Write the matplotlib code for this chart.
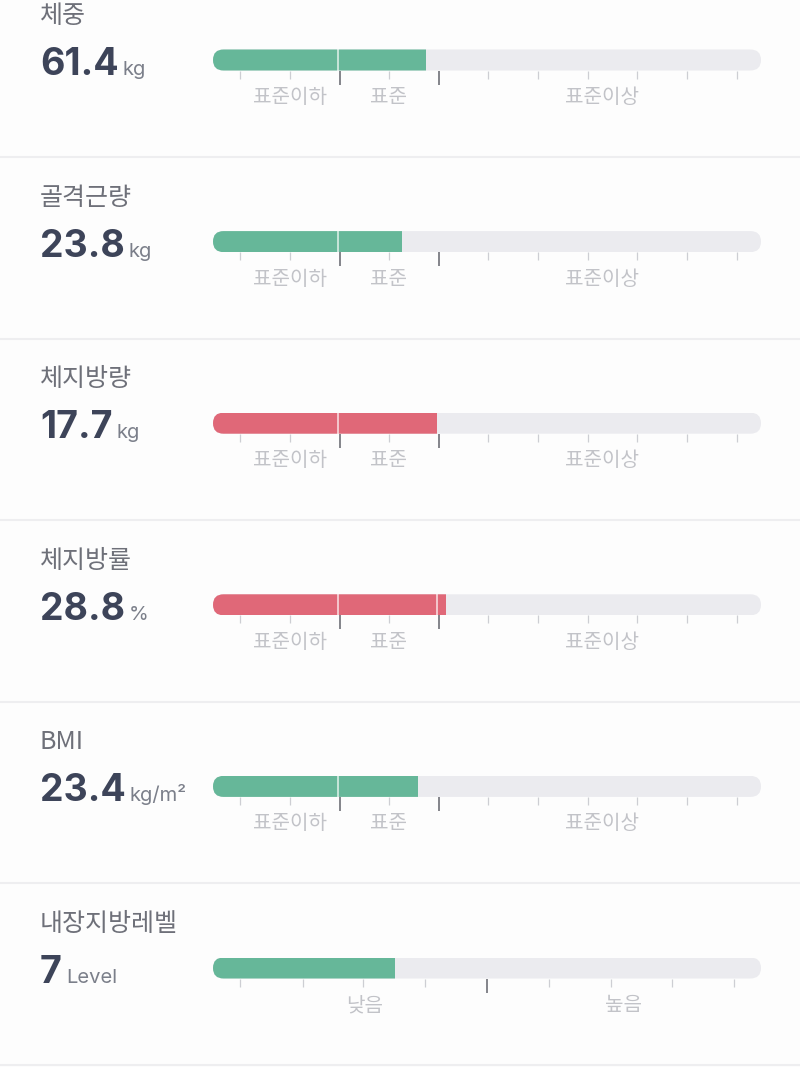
import matplotlib.pyplot as plt
from matplotlib.patches import FancyBboxPatch
from matplotlib.lines import Line2D

# body composition rows
titles = ['체중', '골격근량', '체지방량', '체지방률', 'BMI', '내장지방레벨']
values = ['61.4', '23.8', '17.7', '28.8', '23.4', '7']
units = ['kg', 'kg', 'kg', '%', 'kg/m²', 'Level']
# where each coloured fill ends, on a 0..11 scale
levels = [4.275, 3.794, 4.496, 4.677, 4.115, 3.653]
fill_colors = ['#66B799', '#66B799', '#E06878', '#E06878', '#66B799', '#66B799']

# scale for the standard rows
std_ticks = [0.54, 1.55, 2.54, 3.53, 4.54, 5.52, 6.52, 7.53, 8.51, 9.51, 10.51]
std_major = [2.54, 4.54]
std_labels = ['표준이하', '표준', '표준이상']
std_label_pos = [1.55, 3.53, 7.8]

# scale for visceral fat level
vis_ticks = [0.54, 1.81, 3.01, 4.26, 5.50, 6.74, 7.99, 9.22, 10.46]
vis_major = [5.50]
vis_labels = ['낮음', '높음']
vis_label_pos = [3.05, 8.25]

W, H = 800, 1067
ROW = 181.6
BAR_L, BAR_R, BAR_H = 213, 761, 21

fig = plt.figure(figsize=(W / 100, H / 100), dpi=100)
fig.patch.set_facecolor('#FDFDFD')
renderer = fig.canvas.get_renderer()

num_font = ['Inter', 'Noto Sans CJK KR']
kr_font = ['Noto Sans CJK KR', 'DejaVu Sans']

for i in range(len(titles)):
    off = i * ROW

    # title, value and unit
    fig.text(40 / W, 1 - (16 + off) / H, titles[i], fontsize=18,
             color='#6E7079', family=kr_font, va='center', ha='left')
    t = fig.text(40 / W, 1 - (75 + off) / H, values[i], fontsize=27,
                 weight='bold', color='#3D4459', family=num_font,
                 va='baseline', ha='left')
    bb = t.get_window_extent(renderer)
    fig.text((bb.x1 + 4) / W, 1 - (75 + off) / H, units[i], fontsize=14.5,
             color='#7B7F8A', family=num_font, va='baseline', ha='left')

    # bar axes
    yc = 60 + off
    ax = fig.add_axes([BAR_L / W, 1 - (yc + BAR_H / 2) / H,
                       (BAR_R - BAR_L) / W, BAR_H / H])
    ax.set_xlim(0, 11)
    ax.set_ylim(0, 1)
    ax.patch.set_alpha(0)
    for s in ax.spines.values():
        s.set_visible(False)

    unit_px = (BAR_R - BAR_L) / 11
    bg = FancyBboxPatch((0, 0), 11, 1,
                        boxstyle='round,pad=0,rounding_size=0.21',
                        mutation_aspect=unit_px / BAR_H,
                        facecolor='#EBEBEF', edgecolor='none')
    ax.add_patch(bg)
    bars = ax.barh(0.5, levels[i], height=1, left=0,
                   color=fill_colors[i], edgecolor='none')
    for b in bars:
        b.set_clip_path(bg)

    if i < 5:
        ticks, major, labels, lpos = std_ticks, std_major, std_labels, std_label_pos
    else:
        ticks, major, labels, lpos = vis_ticks, vis_major, vis_labels, vis_label_pos

    # pale divider inside the fill
    for m in major:
        if m < levels[i]:
            ax.vlines(m - 0.04, 0, 1, color='white', lw=1.2, alpha=0.75)

    ax.set_xticks(major)
    ax.set_xticklabels([''] * len(major))
    ax.set_xticks(ticks, minor=True)
    ax.set_yticks([])
    ax.tick_params(axis='x', which='major', length=10, width=1.3,
                   color='#7A7B82', direction='out')
    ax.tick_params(axis='x', which='minor', length=5.5, width=0.9,
                   color='#CDCED3', direction='out')

    for lab, x in zip(labels, lpos):
        ax.annotate(lab, xy=(x, 0), xycoords=('data', 'axes fraction'),
                    xytext=(0, -19.5), textcoords='offset points',
                    ha='center', va='center', fontsize=14.5,
                    color='#C2C3C8', family=kr_font)

    # separator under the row
    sy = 1 - (157 + off) / H
    fig.add_artist(Line2D([0, 1], [sy, sy], transform=fig.transFigure,
                          color='#EEEEF0', lw=1.5))

fig.savefig('out.png', dpi=100, facecolor=fig.get_facecolor())
